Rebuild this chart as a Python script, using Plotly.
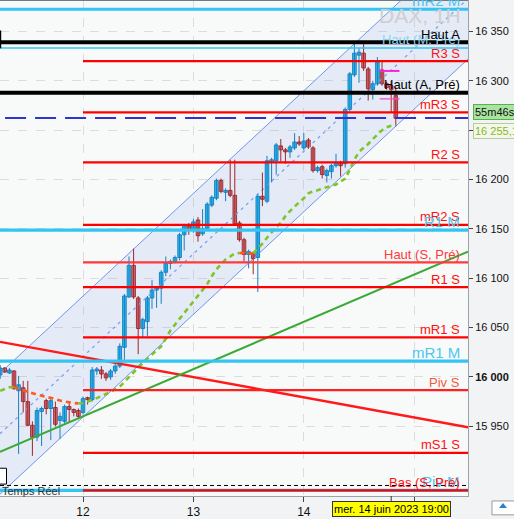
import plotly.graph_objects as go

# ---------------- data (hourly candles, index 0 = 12 June 00:00) ----------------
idx = list(range(-18, 69))
opens = [16002, 16009, 16004, 16006, 15986, 15989, 15975, 15951, 15939, 15965, 15976, 15968, 15969, 15956, 15955, 15970, 15967, 15966,
         15964, 15979, 15977, 16006, 16007, 16003, 16000, 16006, 16011, 16030, 16081, 16113, 16080, 16049, 16056, 16080, 16088, 16090,
         16106, 16115, 16117, 16121, 16144, 16153, 16150, 16159, 16145, 16150, 16174, 16181, 16199, 16187, 16189, 16184, 16156, 16139,
         16124, 16125, 16121, 16183, 16178, 16218, 16219, 16234, 16230, 16228, 16232, 16238, 16232, 16240, 16232, 16209, 16213, 16204,
         16208, 16214, 16217, 16216, 16271, 16306, 16326, 16328, 16312, 16291, 16297, 16311, 16297, 16295, 16285]
closes = [16009, 16005, 16007, 15988, 15992, 15975, 15951, 15939, 15966, 15968, 15968, 15976, 15952, 15960, 15970, 15967, 15964, 15960,
          15978, 15977, 16007, 16008, 16003, 15999, 16006, 16011, 16031, 16082, 16113, 16081, 16049, 16058, 16080, 16088, 16090, 16106,
          16115, 16117, 16121, 16144, 16153, 16149, 16157, 16143, 16150, 16175, 16182, 16199, 16188, 16189, 16184, 16155, 16139, 16124,
          16127, 16120, 16183, 16180, 16219, 16220, 16235, 16230, 16228, 16233, 16238, 16236, 16239, 16233, 16209, 16212, 16205, 16209,
          16214, 16217, 16214, 16271, 16307, 16328, 16329, 16313, 16292, 16297, 16319, 16297, 16293, 16291, 16262]
highs = [16012, 16010, 16009, 16007, 16001, 15996, 15996, 15955, 15969, 15970, 15978, 15978, 15975, 15964, 15972, 15975, 15968, 15968,
         15980, 15980, 16010, 16010, 16011, 16005, 16008, 16013, 16034, 16084, 16122, 16130, 16082, 16060, 16082, 16098, 16092, 16108,
         16122, 16119, 16123, 16146, 16155, 16156, 16160, 16162, 16170, 16177, 16184, 16201, 16201, 16191, 16220, 16220, 16158, 16141,
         16129, 16127, 16185, 16207, 16224, 16222, 16237, 16241, 16232, 16235, 16247, 16244, 16247, 16242, 16234, 16214, 16215, 16211,
         16216, 16226, 16219, 16273, 16309, 16338, 16333, 16339, 16314, 16300, 16324, 16321, 16299, 16300, 16294]
lows = [15998, 16004, 16003, 15987, 15922, 15964, 15950, 15920, 15935, 15930, 15962, 15936, 15950, 15937, 15953, 15954, 15960, 15958,
        15962, 15972, 15975, 16002, 15998, 15996, 15997, 16003, 16009, 16017, 16080, 16079, 16023, 16040, 16041, 16069, 16070, 16074,
        16102, 16109, 16115, 16118, 16128, 16144, 16146, 16137, 16143, 16148, 16172, 16179, 16186, 16178, 16182, 16153, 16137, 16117,
        16110, 16104, 16086, 16173, 16176, 16197, 16205, 16218, 16216, 16222, 16230, 16234, 16230, 16231, 16207, 16207, 16201, 16197,
        16201, 16212, 16203, 16212, 16269, 16304, 16298, 16310, 16280, 16281, 16295, 16295, 16291, 16268, 16254]
ma = [15986, 15988, 15989.5, 15989.7, 15988, 15986.5, 15985, 15983.5, 15982, 15981, 15980, 15979, 15977.5, 15976, 15975, 15974, 15973.5,
      15973.2, 15973.5, 15975, 15976.5, 15978.5, 15980.5, 15982.5, 15985, 15987.5, 15990, 15995, 16000, 16005, 16010, 16014, 16018.5,
      16023, 16027, 16031, 16039, 16047, 16053, 16059, 16064, 16070, 16077, 16082, 16088, 16094, 16102, 16109, 16114, 16119, 16122,
      16125, 16125.6, 16125.5, 16125.3, 16125.2, 16130, 16135, 16141, 16147, 16152, 16156, 16163, 16168, 16173, 16177, 16181, 16186,
      16188, 16189, 16191, 16192, 16193.5, 16195, 16198, 16201, 16210, 16220, 16228, 16232, 16236, 16241, 16246, 16250, 16253,
      16254.5, 16255.1]

day_ticks = [0, 24, 48, 72]
day_labels = ["12", "13", "14", ""]
price_ticks = [15950, 16000, 16050, 16100, 16150, 16200, 16250, 16300, 16350]

level_names = ["mR2 M", "Haut (M, Pré)", "Haut A", "R3 S", "Haut (A, Pré)", "mR3 S", "R2 S", "mR2 S", "R1 M",
               "Haut (S, Pré)", "R1 S", "mR1 S", "mR1 M", "Piv S", "mS1 S", "Piv M", "Bas (S, Pré)"]
level_prices = [16372.5, 16333.3, 16339, 16320, 16288, 16268, 16217.4, 16154, 16148.7,
                16116, 16091, 16040, 16016, 15986.6, 15923, 15885, 15885]
level_kind = ["M", "Mthin", "A", "S", "A", "S", "S", "S", "M", "Slight", "S", "S", "M", "Spiv", "S", "M", "S"]

last_price = 16262.3
bas_dashed_price = 15890
channel_idx = [-18.04, 83.7]
channel_upper = [16003.7, 16444.6]
channel_lower = [15881.2, 16322.0]
red_trend = [16035.5, 15949.0]
green_trend = [15924.0, 16127.0]
marker_idx = [64.5, 68.8]
marker_prices = [16310, 16281.7]

# ---------------- figure ----------------
X0, X1 = -83 / 4.6, 385 / 4.6
Y1 = 16350 + 31.7 / 0.995
Y0 = Y1 - 500 / 0.995
FONT = "Liberation Sans, Arial, sans-serif"

fig = go.Figure()

# channel fill + lines
fig.add_trace(go.Scatter(x=channel_idx + channel_idx[::-1], y=channel_upper + channel_lower[::-1], fill="toself",
                         fillcolor="rgba(100,140,230,0.12)", line=dict(width=0), mode="lines", hoverinfo="skip"))
for ys in (channel_upper, channel_lower):
    fig.add_trace(go.Scatter(x=channel_idx, y=ys, mode="lines", line=dict(color="#6f96ee", width=1), hoverinfo="skip"))
mid = [(a + b) / 2 for a, b in zip(channel_upper, channel_lower)]
fig.add_trace(go.Scatter(x=channel_idx, y=mid, mode="lines", line=dict(color="#7aa0f0", width=1.3, dash="3px,4px"), hoverinfo="skip"))

# candles
up = [k for k in range(len(idx)) if closes[k] >= opens[k]]
dn = [k for k in range(len(idx)) if closes[k] < opens[k]]
for sel, fill, edge in ((up, "#1fc6f0", "#1680c0"), (dn, "#e27070", "#a02626")):
    wx, wy = [], []
    for k in sel:
        wx += [idx[k], idx[k], None]
        wy += [lows[k], highs[k], None]
    fig.add_trace(go.Scatter(x=wx, y=wy, mode="lines", line=dict(color=edge, width=1), hoverinfo="skip"))
    fig.add_trace(go.Bar(x=[idx[k] for k in sel], base=[min(opens[k], closes[k]) for k in sel],
                         y=[max(abs(closes[k] - opens[k]), 0.8) for k in sel], width=0.78,
                         marker=dict(color=fill, line=dict(color=edge, width=1)), hoverinfo="skip"))

# moving average, coloured by direction
runs = []
for k in range(len(ma) - 1):
    col = "#ff5a1e" if ma[k + 1] < ma[k] else "#7dc52a"
    if runs and runs[-1][0] == col:
        runs[-1][1].append(idx[k + 1]); runs[-1][2].append(ma[k + 1])
    else:
        runs.append([col, [idx[k], idx[k + 1]], [ma[k], ma[k + 1]]])
for col, xs, ys in runs:
    fig.add_trace(go.Scatter(x=xs, y=ys, mode="lines", line=dict(color=col, width=2.6, dash="5px,4px"), hoverinfo="skip"))

# trend lines
fig.add_trace(go.Scatter(x=channel_idx, y=red_trend, mode="lines", line=dict(color="#ff1a1a", width=2.4), hoverinfo="skip"))
fig.add_trace(go.Scatter(x=channel_idx, y=green_trend, mode="lines", line=dict(color="#3aaa35", width=2), hoverinfo="skip"))

# horizontal levels
style = {"M": ("#33c4f2", 3.2, 15), "Mthin": ("#33c4f2", 1.5, 13), "A": ("#000000", 4, 13), "S": ("#ff0000", 2.2, 13),
         "Slight": ("#ff3838", 2.2, 13), "Spiv": ("#ff2020", 2.2, 13)}
label_col = {"M": "#4cc6ef", "Mthin": "#8ad6f2", "A": "#000000", "S": "#ff1010", "Slight": "#ff3838", "Spiv": "#f25a40"}
fig.add_trace(go.Scatter(x=[X0, X1], y=[bas_dashed_price] * 2, mode="lines", line=dict(color="#000", width=1, dash="4px,3px"), hoverinfo="skip"))
for name, p, kind in zip(level_names, level_prices, level_kind):
    col, w, _ = style[kind]
    xs = [0, X1] if kind.startswith("S") else [X0, X1]
    fig.add_trace(go.Scatter(x=xs, y=[p, p], mode="lines", line=dict(color=col, width=w), hoverinfo="skip"))
fig.add_trace(go.Scatter(x=[X0 + 1.1, X1], y=[last_price] * 2, mode="lines", line=dict(color="#3232cc", width=2, dash="21px,9px"), hoverinfo="skip"))
for p, col, w in zip(marker_prices, ["#ff20dd", "#f050c8"], [2, 1.3]):
    fig.add_trace(go.Scatter(x=marker_idx, y=[p, p], mode="lines", line=dict(color=col, width=w), hoverinfo="skip"))

ann = []
ann.append(dict(text="DAX, 1H", xref="paper", x=1, xshift=-5, xanchor="right", yref="paper", y=1 - 15.5 / 500, yanchor="middle",
                showarrow=False, font=dict(family=FONT, size=21, color="#cfcfcf")))
for name, p, kind in zip(level_names, level_prices, level_kind):
    ann.append(dict(text=name, xref="paper", x=1, xshift=-6, xanchor="right", yref="y", y=p, yanchor="bottom", yshift=-1.5,
                    showarrow=False, font=dict(family=FONT, size=style[kind][2], color=label_col[kind])))
ann.append(dict(text="Temps Réel", xref="paper", x=0, xanchor="left", yref="paper", y=1 - 494.5 / 500, yanchor="middle",
                showarrow=False, font=dict(family=FONT, size=11, color="#333")))
ann.append(dict(text="55m46s", xref="paper", x=1, xshift=5, xanchor="left", yref="y", y=last_price + 6, yanchor="middle",
                showarrow=False, width=40, align="left", bgcolor="#a8e4a0", bordercolor="#5cae52", borderwidth=1, borderpad=1,
                font=dict(family=FONT, size=11, color="#111")))
ann.append(dict(text="16 255,1", xref="paper", x=1, xshift=5, xanchor="left", yref="y", y=16249.5, yanchor="middle",
                showarrow=False, width=44, align="left", bgcolor="#f4f8ec", bordercolor="#b9c9a0", borderwidth=1, borderpad=1,
                font=dict(family=FONT, size=11, color="#86bb1e")))
ann.append(dict(text="mer. 14 juin 2023 19:00", xref="x", x=67, xanchor="center", yref="paper", y=-5 / 500, yanchor="top",
                showarrow=False, bgcolor="#ffff00", bordercolor="#333", borderwidth=1, borderpad=1,
                font=dict(family=FONT, size=11, color="#000")))

shapes = [
    dict(type="line", xref="paper", yref="paper", x0=0, x1=1, y0=1, y1=1, line=dict(color="#6d7b85", width=2)),
    dict(type="line", xref="paper", yref="y", x0=0.001, x1=0.001, y0=16351, y1=16333, line=dict(color="#000", width=1.5)),
    dict(type="rect", xref="paper", yref="paper", x0=-0.005, x1=6.5 / 468, y0=1 - 488 / 500, y1=1 - 472 / 500,
         fillcolor="#fff", line=dict(color="#000", width=1)),
    dict(type="line", xref="x", yref="paper", x0=67, x1=67, y0=0, y1=-5 / 500, line=dict(color="#333", width=1)),
    dict(type="rect", xref="paper", yref="paper", x0=492 / 468, x1=515 / 468, y0=-19 / 500, y1=-5 / 500,
         fillcolor="#fff", line=dict(color="#999", width=1)),
    dict(type="path", xref="paper", yref="paper", path=f"M {499/468} {-12/500} L {503/468} {-7/500} L {507/468} {-12/500} Z",
         fillcolor="#2a7fd4", line=dict(width=0)),
]

tick_text = []
for v in price_ticks:
    s = f"{v:,}".replace(",", " ")
    tick_text.append(f"<b>{s}</b>" if v % 1000 == 0 else s)

fig.update_layout(
    width=514, height=519, margin=dict(l=0, r=46, t=0, b=19),
    paper_bgcolor="#f1f3f4", plot_bgcolor="#f8f9f9", showlegend=False, barmode="overlay",
    font=dict(family=FONT, size=11, color="#111"),
    xaxis=dict(range=[X0, X1], tickvals=day_ticks, ticktext=day_labels, ticks="outside", ticklen=5, tickcolor="#444",
               showgrid=True, gridcolor="#dcdcdc", griddash="dash", zeroline=False, showline=True, linecolor="#9aa3aa",
               tickfont=dict(size=12, color="#111")),
    yaxis=dict(range=[Y0, Y1], side="right", tickvals=price_ticks, ticktext=tick_text, ticks="outside", ticklen=4,
               tickcolor="#444", showgrid=True, gridcolor="#dcdcdc", griddash="dash", zeroline=False, showline=True,
               linecolor="#9aa3aa", tickfont=dict(size=11, color="#111")),
    annotations=ann, shapes=shapes,
)
fig.write_html("out.html", config={"displayModeBar": False},
               post_script="document.body.style.margin='0';document.body.style.overflow='hidden';")
